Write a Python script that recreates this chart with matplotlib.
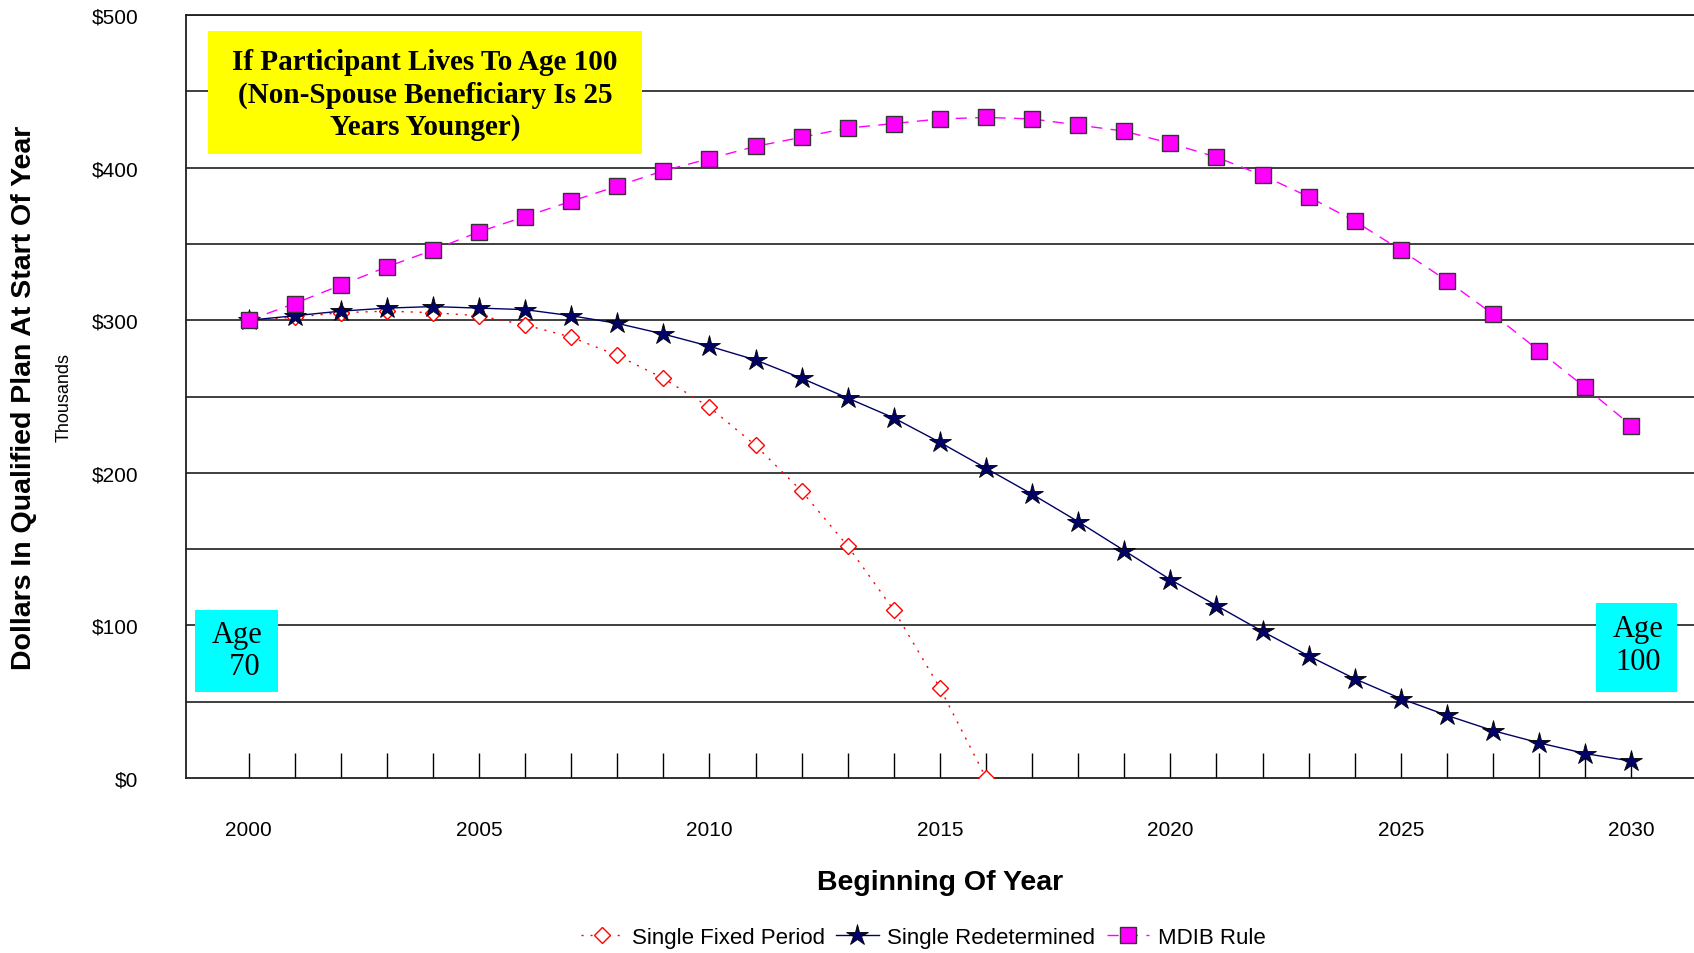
import numpy as np
import matplotlib.pyplot as plt
from matplotlib.patches import Rectangle
from matplotlib.ticker import MultipleLocator, FixedLocator, FuncFormatter

plt.rcParams['font.family'] = ['Liberation Sans', 'DejaVu Sans']

# data (thousands of dollars)
years = np.arange(2000, 2031)
fixed_years = np.arange(2000, 2017)
single_fixed = [300, 302, 305, 306, 305, 303, 297, 289, 277, 262, 243, 218,
                188, 152, 110, 59, 0]
single_redet = [300, 303, 306, 308, 309, 308, 307, 303, 298, 291, 283, 274,
                262, 249, 236, 220, 203, 186, 168, 149, 130, 113, 96, 80,
                65, 52, 41, 31, 23, 16, 11]
mdib = [300, 311, 323, 335, 346, 358, 368, 378, 388, 398, 406, 414, 420,
        426, 429, 432, 433, 432, 428, 424, 416, 407, 395, 381, 365, 346,
        326, 304, 280, 256, 231]

fig = plt.figure(figsize=(16.94, 9.54), dpi=100)
ax = fig.add_axes([0.1097, 0.1835, 0.8903, 0.7995])

# Gridlines every 50
for v in range(50, 501, 50):
    ax.axhline(v, color='#303030', lw=1.3, zorder=1)

ax.plot(fixed_years, single_fixed, color='red', ls=(0, (1.5, 5)), lw=1,
        marker='D', ms=8, mfc='white', mec='red', mew=1,
        label='Single Fixed Period', zorder=3)
ax.plot(years, single_redet, color='#000066', ls='-', lw=1,
        marker='*', ms=16, mfc='#000066', mec='black', mew=0.6,
        label='Single Redetermined', zorder=4)
ax.plot(years, mdib, color='#FF00FF', ls=(0, (8, 6)), lw=1,
        marker='s', ms=12, mfc='#FF00FF', mec='#333333', mew=1,
        label='MDIB Rule', zorder=5)

ax.set_xlim(1998.64, 2031.36)
ax.set_ylim(0, 500)

ax.xaxis.set_major_locator(MultipleLocator(5))
ax.xaxis.set_minor_locator(FixedLocator(years))
ax.tick_params(axis='x', which='both', direction='in', length=18, width=1,
               color='black', pad=30, labelsize=15)
ax.yaxis.set_major_locator(MultipleLocator(100))
ax.yaxis.set_major_formatter(FuncFormatter(lambda v, p: '$%d' % v))
ax.tick_params(axis='y', length=0, pad=34, labelsize=15)

ax.spines['right'].set_visible(False)
for s in ['left', 'top', 'bottom']:
    ax.spines[s].set_color('#202020')
    ax.spines[s].set_linewidth(1.3)

fig.text(0.014, 0.583, 'Dollars In Qualified Plan At Start Of Year',
         rotation=90, ha='center', va='center', fontsize=20.5, fontweight='bold')
fig.text(0.038, 0.583, 'Thousands', rotation=90, ha='center', va='center',
         fontsize=13)
fig.text(0.555, 0.0747, 'Beginning Of Year', ha='center', va='center',
         fontsize=20.5, fontweight='bold')

# title box
fig.patches.append(Rectangle((0.123, 0.838), 0.256, 0.128,
                             transform=fig.transFigure, facecolor='#FFFF00',
                             edgecolor='none', zorder=6))
fig.text(0.251, 0.900, 'If Participant Lives To Age 100\n(Non-Spouse Beneficiary Is 25\nYears Younger)',
         ha='center', va='center', family='Liberation Serif', fontweight='bold',
         fontsize=21, linespacing=1.25, zorder=7)

# age boxes
fig.patches.append(Rectangle((0.1154, 0.274), 0.0485, 0.086,
                             transform=fig.transFigure, facecolor='#00FFFF',
                             edgecolor='none', zorder=6))
fig.text(0.140, 0.317, 'Age\n  70', ha='center', va='center',
         family='Liberation Serif', fontsize=22, linespacing=1.15, zorder=7)
fig.patches.append(Rectangle((0.942, 0.274), 0.048, 0.093,
                             transform=fig.transFigure, facecolor='#00FFFF',
                             edgecolor='none', zorder=6))
fig.text(0.967, 0.323, 'Age\n100', ha='center', va='center',
         family='Liberation Serif', fontsize=22, linespacing=1.15, zorder=7)

fig.legend(loc='center', bbox_to_anchor=(0.545, 0.016), ncol=3, frameon=False,
           fontsize=16, handlelength=1.9, columnspacing=0.5, handletextpad=0.4)

fig.savefig('out.png', dpi=100)
